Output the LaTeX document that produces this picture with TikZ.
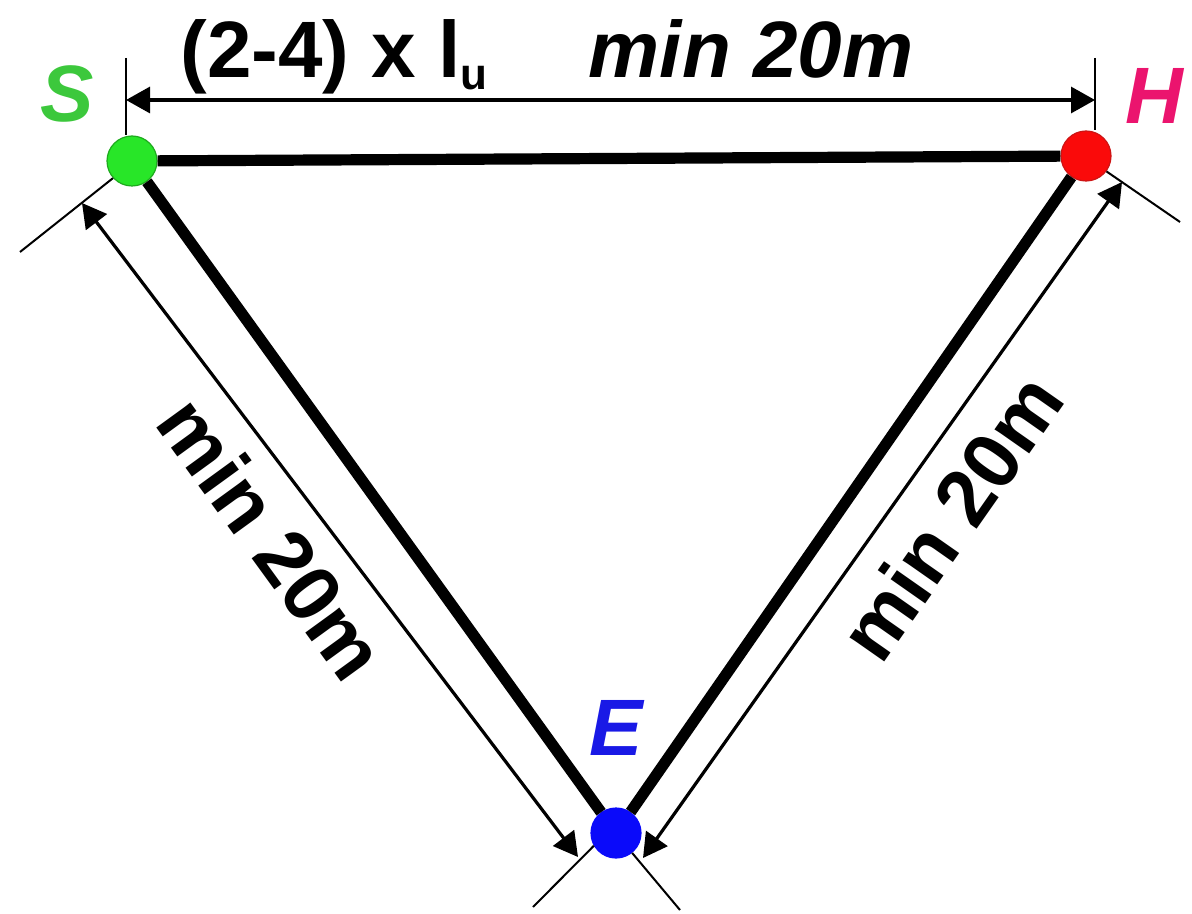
\documentclass[tikz,border=0pt]{standalone}
\usepackage{fontspec}
\setmainfont{Liberation Sans}
\usetikzlibrary{arrows.meta,calc}
\definecolor{ptgreen}{RGB}{40,230,40}
\definecolor{ptgreenedge}{RGB}{30,170,30}
\definecolor{ptred}{RGB}{250,10,10}
\definecolor{ptrededge}{RGB}{205,20,20}
\definecolor{ptblue}{RGB}{10,10,250}
\definecolor{lblgreen}{RGB}{60,200,60}
\definecolor{lblpink}{RGB}{235,20,110}
\definecolor{lblblue}{RGB}{25,25,230}

\begin{document}
\begin{tikzpicture}[x=0.5pt,y=-0.5pt,
  side/.style={line width=5.6pt},
  ext/.style={line width=1pt},
  dim/.style={line width=1.6pt,{Triangle[length=12pt,width=13pt]}-{Triangle[length=12pt,width=13pt]}},
  vertex/.style={circle,inner sep=0pt,minimum size=25pt,line width=0.6pt},
  lbl/.style={font=\fontsize{40}{40}\selectfont\bfseries,inner sep=0pt},
  lblit/.style={font=\fontsize{40}{40}\selectfont\bfseries\itshape,inner sep=0pt}]
  \useasboundingbox (0,0) rectangle (1192,914);
  % corner points
  \node[vertex,fill=ptgreen,draw=ptgreenedge] (S) at (132,161) {};
  \node[vertex,fill=ptred,draw=ptrededge] (H) at (1086,156) {};
  \node[vertex,fill=ptblue,draw=ptblue] (E) at (616,833) {};
  \draw[side] (S) -- (H) -- (E) -- (S);
  % extension lines
  \coordinate (sTop) at (126,58);
  \coordinate (hTop) at (1095,58);
  \coordinate (sLow) at (20,252);
  \coordinate (hLow) at (1180,222);
  \coordinate (eLeft) at (533,907);
  \coordinate (eRight) at (680,910);
  \draw[ext] (sTop) -- (sTop |- S.north);
  \draw[ext] (hTop) -- (hTop |- H.north);
  \draw[ext] (S.222) -- (sLow);
  \draw[ext] (H.323) -- (hLow);
  \draw[ext] (E.210) -- (eLeft);
  \draw[ext] (E.309) -- (eRight);
  % dimension arrows
  \coordinate (dTopL) at (126,100);
  \coordinate (dTopR) at (1095,100);
  \coordinate (dLeftS) at (82,203);
  \coordinate (dLeftE) at (578,857);
  \coordinate (dRightE) at (643,858);
  \coordinate (dRightH) at (1122,182);
  \draw[dim] (dTopL) -- (dTopR);
  \draw[dim] (dLeftS) -- (dLeftE);
  \draw[dim] (dRightE) -- (dRightH);
  % labels
  \node[lbl,anchor=base west] (lenRule) at (180,78) {(2-4) x l\raisebox{-6pt}{\fontsize{22}{22}\selectfont u}};
  \node[lblit,anchor=base] (lenTop) at (751,78) {min 20m};
  \node[lbl,rotate=-54] (lenLeft) at (272,538) {min 20m};
  \node[lbl,rotate=55] (lenRight) at (951,517) {min 20m};
  \node[lblit,text=lblgreen] (labS) at (67,94) {S};
  \node[lblit,text=lblpink] (labH) at (1154,96) {H};
  \node[lblit,text=lblblue] (labE) at (616,728) {E};
\end{tikzpicture}
\end{document}
